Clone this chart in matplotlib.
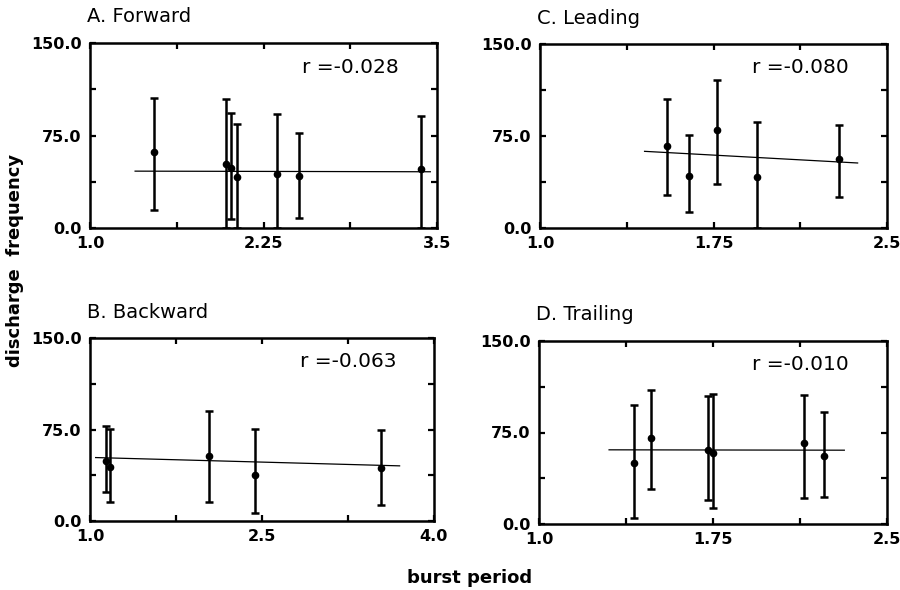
import matplotlib
matplotlib.use("Agg")
import matplotlib.pyplot as plt
import numpy as np

plt.rcParams['font.family'] = ['DejaVu Sans']

# ---- data ----
titles = ["A. Forward", "C. Leading", "B. Backward", "D. Trailing"]
r_labels = ["r =-0.028", "r =-0.080", "r =-0.063", "r =-0.010"]
x_limits = [(1.0, 3.5), (1.0, 2.5), (1.0, 4.0), (1.0, 2.5)]
x_ticklabels = [["1.0", "2.25", "3.5"], ["1.0", "1.75", "2.5"],
                ["1.0", "2.5", "4.0"], ["1.0", "1.75", "2.5"]]
y_ticklabels = ["0.0", "75.0", "150.0"]

# A. Forward
a_x = [1.464, 1.978, 2.017, 2.058, 2.344, 2.505, 3.385]
a_mean = [61.8, 51.8, 48.8, 41.5, 43.7, 42.3, 47.5]
a_low = [14.4, 0.0, 7.6, 0.0, 0.0, 8.1, 0.0]
a_high = [105.8, 104.7, 93.0, 84.4, 92.2, 77.3, 90.9]
a_fit_x = [1.325, 3.452]
a_fit_y = [46.1, 45.6]

# C. Leading
c_x = [1.549, 1.644, 1.763, 1.938, 2.293]
c_mean = [66.6, 42.1, 79.6, 41.6, 56.3]
c_low = [27.2, 13.3, 36.1, 0.0, 25.0]
c_high = [105.4, 75.5, 120.7, 86.7, 84.0]
c_fit_x = [1.452, 2.373]
c_fit_y = [62.5, 53.0]

# B. Backward
b_x = [1.136, 1.174, 2.040, 2.435, 3.541]
b_mean = [49.5, 44.6, 53.4, 37.5, 43.2]
b_low = [24.1, 15.3, 15.3, 6.3, 13.1]
b_high = [77.5, 75.8, 90.3, 75.3, 74.2]
b_fit_x = [1.049, 3.70]
b_fit_y = [52.0, 45.2]

# D. Trailing
d_x = [1.410, 1.482, 1.727, 1.749, 2.144, 2.229]
d_mean = [49.9, 70.9, 60.3, 58.6, 66.3, 55.4]
d_low = [4.9, 28.9, 19.9, 12.8, 21.3, 21.8]
d_high = [97.6, 109.9, 105.0, 106.6, 105.8, 91.4]
d_fit_x = [1.302, 2.316]
d_fit_y = [60.8, 60.5]

panels = [
    (a_x, a_mean, a_low, a_high, a_fit_x, a_fit_y),
    (c_x, c_mean, c_low, c_high, c_fit_x, c_fit_y),
    (b_x, b_mean, b_low, b_high, b_fit_x, b_fit_y),
    (d_x, d_mean, d_low, d_high, d_fit_x, d_fit_y),
]

# ---- layout (figure fractions) ----
W, H = 900, 590
boxes_px = [(90, 43, 437, 228), (540, 44, 887, 228),
            (90, 338, 434, 521), (539, 341, 887, 524)]

fig = plt.figure(figsize=(9, 5.9), dpi=100)

for i, (l, t, r, b) in enumerate(boxes_px):
    ax = fig.add_axes([l / W, 1 - b / H, (r - l) / W, (b - t) / H])
    xs, mean, low, high, fx, fy = panels[i]
    xs = np.array(xs); mean = np.array(mean)
    low = np.array(low); high = np.array(high)
    ax.plot(fx, fy, color='black', lw=0.9, zorder=2)
    ax.errorbar(xs, mean, yerr=[mean - low, high - mean], fmt='o',
                color='black', ms=4.5, elinewidth=1.8, capsize=3,
                capthick=1.8, zorder=3)
    x0, x1 = x_limits[i]
    ax.set_xlim(x0, x1)
    ax.set_ylim(0, 150)
    xt = np.linspace(x0, x1, 5)
    yt = np.linspace(0, 150, 5)
    ax.set_xticks(xt)
    ax.set_yticks(yt)
    ax.set_xticklabels([x_ticklabels[i][0], "", x_ticklabels[i][1], "", x_ticklabels[i][2]])
    ax.set_yticklabels([y_ticklabels[0], "", y_ticklabels[1], "", y_ticklabels[2]])
    ax.tick_params(direction='in', length=4, width=1.6, top=True, right=True,
                   labelsize=11.5, pad=6)
    for lab in ax.get_xticklabels() + ax.get_yticklabels():
        lab.set_fontweight('bold')
    for s in ax.spines.values():
        s.set_linewidth(1.8)
    ax.annotate(titles[i], xy=(0, 1), xycoords='axes fraction',
                xytext=(-3, 26), textcoords='offset pixels',
                ha='left', va='center', fontsize=14)
    ax.text(0.89, 0.87, r_labels[i], transform=ax.transAxes,
            ha='right', va='center', fontsize=14.5)

fig.text(15 / W, 1 - 260 / H, "discharge  frequency", rotation=90,
         ha='center', va='center', fontsize=13, fontweight='bold')
fig.text(470 / W, 1 - 578 / H, "burst period", ha='center', va='center',
         fontsize=13, fontweight='bold')

fig.savefig("out.png", dpi=100)
